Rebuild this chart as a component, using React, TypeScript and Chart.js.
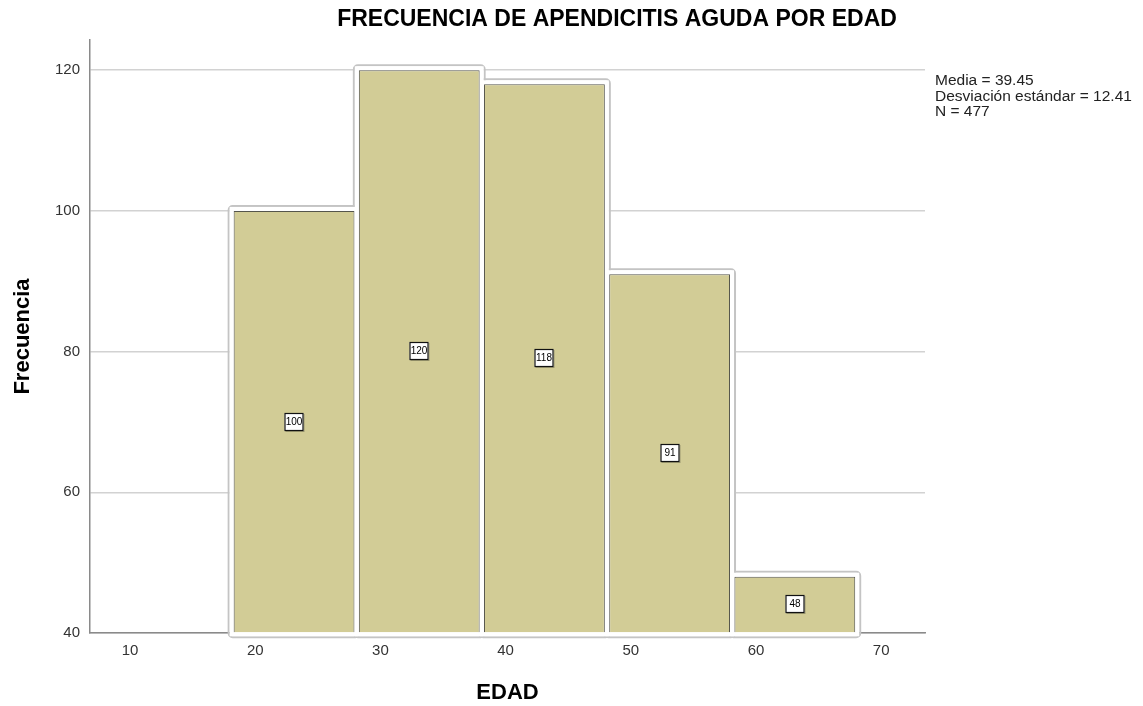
import React, { useEffect, useRef } from "react";
import { Chart, registerables } from "chart.js";

Chart.register(...registerables);

const chartTitle = "FRECUENCIA DE APENDICITIS AGUDA POR EDAD";
const xAxisTitle = "EDAD";
const yAxisTitle = "Frecuencia";
const binCenters = [23.1, 33.1, 43.1, 53.1, 63.1];
const frequencies = [100, 120, 118, 91, 48];
const xTickValues = [10, 20, 30, 40, 50, 60, 70];
const yTickValues = [40, 60, 80, 100, 120];
const statsLines = ["Media = 39.45", "Desviación estándar = 12.41", "N = 477"];

const FONT = "'Liberation Sans', Arial, sans-serif";

const outlinePlugin = {
  id: "histOutline",
  beforeDatasetsDraw(chart: any) {
    const meta = chart.getDatasetMeta(0);
    const ctx = chart.ctx;
    const rects = meta.data.map((b: any) => {
      const p = b.getProps(["x", "y", "base", "width"], true);
      return { l: p.x - p.width / 2, r: p.x + p.width / 2, t: p.y, b: p.base };
    });
    ctx.save();
    ctx.strokeStyle = "#c4c4c4";
    ctx.lineWidth = 2;
    rects.forEach((r: any) => {
      ctx.beginPath();
      (ctx as any).roundRect(r.l - 5, r.t - 5, r.r - r.l + 10, r.b - r.t + 10, 4);
      ctx.stroke();
    });
    ctx.fillStyle = "#ffffff";
    rects.forEach((r: any) => {
      ctx.fillRect(r.l - 4, r.t - 4, r.r - r.l + 8, r.b - r.t + 8);
    });
    ctx.restore();
  },
  afterDatasetsDraw(chart: any) {
    const meta = chart.getDatasetMeta(0);
    const ctx = chart.ctx;
    ctx.save();
    meta.data.forEach((b: any, i: number) => {
      const p = b.getProps(["x", "y", "base"], true);
      const cx = Math.round(p.x);
      const cy = Math.round((p.y + p.base) / 2);
      const w = 19, h = 18;
      ctx.fillStyle = "rgba(0,0,0,0.25)";
      ctx.fillRect(cx - w / 2 + 1, cy - h / 2 + 1, w, h);
      ctx.fillStyle = "#ffffff";
      ctx.fillRect(cx - w / 2, cy - h / 2, w, h);
      ctx.strokeStyle = "#111";
      ctx.lineWidth = 1.2;
      ctx.strokeRect(cx - w / 2 + 0.5, cy - h / 2 + 0.5, w - 1, h - 1);
      ctx.fillStyle = "#000";
      ctx.font = `10px ${FONT}`;
      ctx.textAlign = "center";
      ctx.textBaseline = "middle";
      ctx.fillText(String(frequencies[i]), cx, cy + 0.5);
    });
    ctx.restore();
  },
  afterDraw(chart: any) {
    const ctx = chart.ctx;
    ctx.save();
    ctx.fillStyle = "#000";
    ctx.font = `bold 23px ${FONT}`;
    ctx.textAlign = "center";
    ctx.textBaseline = "alphabetic";
    ctx.fillText(chartTitle, 617, 26);
    ctx.font = `15.5px ${FONT}`;
    ctx.textAlign = "left";
    ctx.fillStyle = "#222";
    statsLines.forEach((line, i) => {
      ctx.fillText(line, chart.chartArea.right + 10, 85 + i * 15.5);
    });
    ctx.restore();
  },
};

export default function App() {
  const ref = useRef<HTMLCanvasElement | null>(null);
  useEffect(() => {
    if (!ref.current) return;
    const chart = new Chart(ref.current, {
      type: "bar",
      data: {
        datasets: [
          {
            data: binCenters.map((x, i) => ({ x, y: frequencies[i] })) as any,
            backgroundColor: "#d2cc96",
            borderColor: "#55554c",
            borderWidth: 1,
            base: 40,
            categoryPercentage: 1,
            barPercentage: 0.965,
          } as any,
        ],
      },
      options: {
        animation: false,
        responsive: false,
        maintainAspectRatio: false,
        layout: { padding: { left: 0, right: 218, top: 40, bottom: 0 } },
        plugins: {
          legend: { display: false },
          tooltip: { enabled: false },
          title: { display: false },
        },
        scales: {
          x: {
            type: "linear",
            min: 6.8,
            max: 73.5,
            offset: false,
            afterBuildTicks: (s: any) => {
              s.ticks = xTickValues.map((v) => ({ value: v }));
            },
            afterFit: (s: any) => {
              s.height = 73;
            },
            grid: { display: true, color: "rgba(0,0,0,0)", drawTicks: false, offset: false },
            border: { display: true, color: "#8a8a8a", width: 1.5 },
            ticks: {
              padding: 9,
              color: "#333",
              font: { family: FONT, size: 15 },
              maxRotation: 0,
            },
            title: {
              display: true,
              text: xAxisTitle,
              color: "#000",
              font: { family: FONT, size: 22, weight: "bold" },
              padding: { top: 0, bottom: 0 },
            },
          },
          y: {
            min: 40,
            max: 124.3,
            afterBuildTicks: (s: any) => {
              s.ticks = yTickValues.map((v) => ({ value: v }));
            },
            afterFit: (s: any) => {
              s.width = 90;
            },
            grid: { color: "#d2d2d2", lineWidth: 1.5, drawTicks: false },
            border: { display: true, color: "#8a8a8a", width: 1.5 },
            ticks: {
              padding: 10,
              color: "#333",
              font: { family: FONT, size: 15 },
            },
            title: {
              display: true,
              text: yAxisTitle,
              color: "#000",
              font: { family: FONT, size: 22, weight: "bold" },
              padding: { top: 10, bottom: 0 },
            },
          },
        },
      },
      plugins: [outlinePlugin],
    });
    return () => chart.destroy();
  }, []);
  return (
    <div style={{ position: "absolute", left: 0, top: 0, width: 1143, height: 706, background: "#fff" }}>
      <canvas ref={ref} width={1143} height={706} style={{ display: "block", width: 1143, height: 706 }} />
    </div>
  );
}
